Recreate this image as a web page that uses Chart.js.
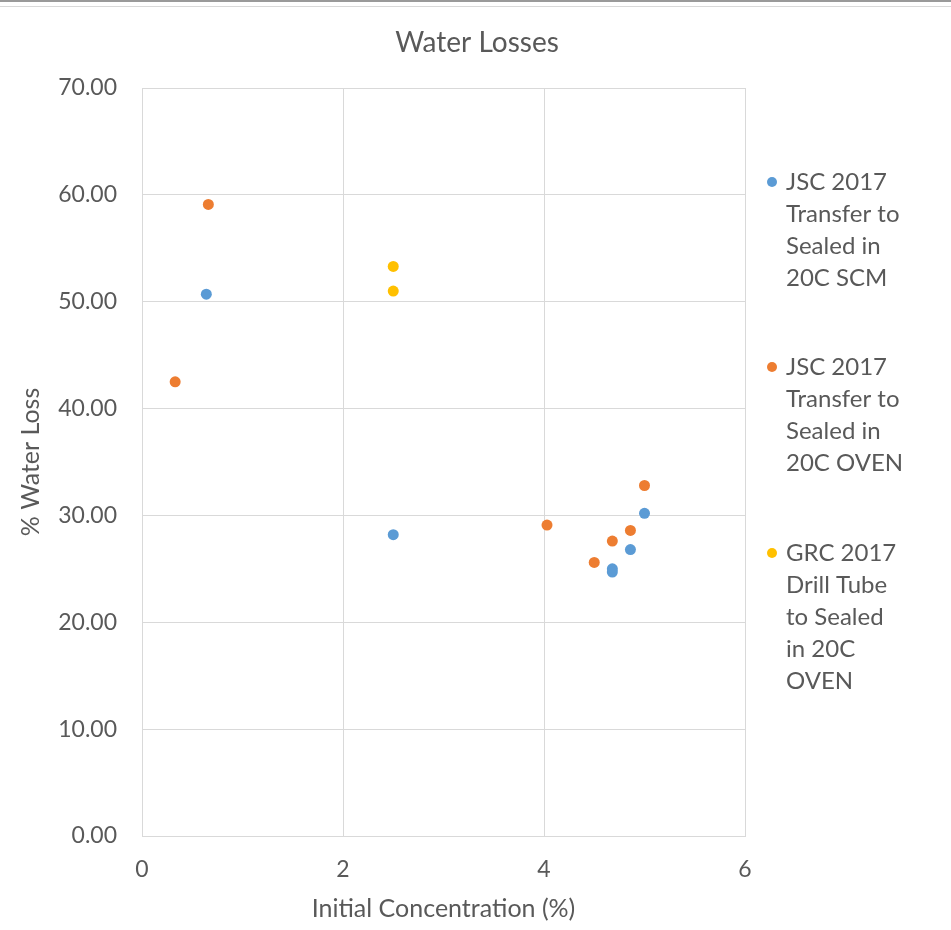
<!DOCTYPE html>
<html><head><meta charset="utf-8">
<script src="https://cdn.jsdelivr.net/npm/chart.js@4.4.1/dist/chart.umd.min.js"></script>
<style>
html,body{margin:0;padding:0;background:#fff;}
#wrap{position:relative;width:951px;height:930px;overflow:hidden;}
#top1{position:absolute;left:0;top:0;width:951px;height:2px;background:#9a9a9a;}
#top2{position:absolute;left:0;top:6px;width:951px;height:1px;background:#d9d9d9;}
#c{position:absolute;left:0;top:0;}
</style></head>
<body><div id="wrap"><canvas id="c" width="951" height="930"></canvas><div id="top1"></div><div id="top2"></div></div>
<script>
const chartTitle = "Water Losses";
const seriesNames = [
  ["JSC 2017", "Transfer to", "Sealed in", "20C SCM"],
  ["JSC 2017", "Transfer to", "Sealed in", "20C OVEN"],
  ["GRC 2017", "Drill Tube", "to Sealed", "in 20C", "OVEN"]
];
const seriesColors = ["#5B9BD5", "#ED7D31", "#FFC000"];
const jscScmX = [0.64, 2.50, 4.68, 4.68, 4.86, 5.00];
const jscScmY = [50.7, 28.2, 25.0, 24.7, 26.8, 30.2];
const jscOvenX = [0.66, 0.33, 4.03, 4.50, 4.68, 4.86, 5.00];
const jscOvenY = [59.1, 42.5, 29.1, 25.6, 27.6, 28.6, 32.8];
const grcX = [2.50, 2.50];
const grcY = [53.3, 51.0];
const xTicks = [0, 2, 4, 6];
const yTicks = [0, 10, 20, 30, 40, 50, 60, 70];

const toPts = (xs, ys) => xs.map((x, i) => ({x: x, y: ys[i]}));
const dataSets = [toPts(jscScmX, jscScmY), toPts(jscOvenX, jscOvenY), toPts(grcX, grcY)];

const FONT = "Lato, 'Open Sans', sans-serif";
const TXT = "#595959";

const legendPlugin = {
  id: 'customLegend',
  afterDraw(chart) {
    const ctx = chart.ctx;
    const ca = chart.chartArea;
    const starts = [182, 367, 553];
    ctx.save();
    ctx.textBaseline = "middle";
    ctx.textAlign = "center";
    ctx.font = "28px " + FONT;
    ctx.fillStyle = TXT;
    ctx.fillText(chartTitle, 477, 43);
    ctx.textAlign = "left";
    ctx.font = "24px " + FONT;
    seriesNames.forEach((lines, i) => {
      const y0 = starts[i];
      ctx.beginPath();
      ctx.fillStyle = seriesColors[i];
      ctx.arc(ca.right + 27, y0, 5, 0, Math.PI * 2);
      ctx.fill();
      ctx.fillStyle = TXT;
      lines.forEach((t, j) => ctx.fillText(t, ca.right + 41, y0 + j * 32));
    });
    ctx.restore();
  }
};

new Chart(document.getElementById('c'), {
  type: 'scatter',
  data: {
    datasets: dataSets.map((d, i) => ({
      label: seriesNames[i].join(' '),
      data: d,
      backgroundColor: seriesColors[i],
      borderColor: seriesColors[i],
      pointRadius: 5.5,
      pointHoverRadius: 5.5,
      borderWidth: 0
    }))
  },
  options: {
    responsive: false,
    animation: false,
    devicePixelRatio: 1,
    layout: {padding: {left: 0, right: 206, top: 88, bottom: 0}},
    plugins: {
      legend: {display: false},
      tooltip: {enabled: false},
      title: {display: false}
    },
    scales: {
      x: {
        type: 'linear', min: 0, max: 6,
        afterBuildTicks: (s) => { s.ticks = xTicks.map(v => ({value: v})); },
        afterFit: (s) => { s.height = 94; },
        ticks: {color: TXT, font: {family: FONT, size: 23}, padding: 20},
        grid: {color: '#d9d9d9', lineWidth: 1, drawTicks: false},
        border: {color: '#d9d9d9'},
        title: {display: true, text: 'Initial Concentration (%)', color: TXT,
          font: {family: FONT, size: 25}, padding: {top: 6, bottom: 6}}
      },
      y: {
        type: 'linear', min: 0, max: 70,
        afterBuildTicks: (s) => { s.ticks = yTicks.map(v => ({value: v})); },
        afterFit: (s) => { s.width = 142; },
        ticks: {color: TXT, font: {family: FONT, size: 23}, padding: 25,
          callback: (v) => Number(v).toFixed(2)},
        grid: {color: '#d9d9d9', lineWidth: 1, drawTicks: false},
        border: {color: '#d9d9d9'},
        title: {display: true, text: '% Water Loss', color: TXT,
          font: {family: FONT, size: 25}, padding: {top: 16, bottom: 16}}
      }
    }
  },
  plugins: [legendPlugin]
});
</script></body></html>
